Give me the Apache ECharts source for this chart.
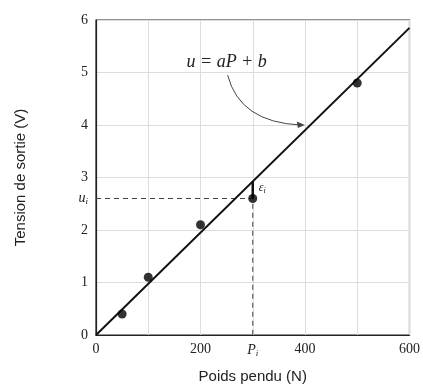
<!DOCTYPE html>
<html>
<head>
<meta charset="utf-8">
<script src="https://cdn.jsdelivr.net/npm/echarts@6/dist/echarts.min.js"></script>
<style>
  html, body { margin: 0; padding: 0; background: #fff; }
  #chart { width: 423px; height: 389px; }
</style>
</head>
<body>
<div id="chart"></div>
<script>
// Measured points (weight in N, output voltage in V)
const weights = [50, 100, 200, 300, 500];
const voltages = [0.4, 1.1, 2.1, 2.6, 4.8];

// Fitted line u = aP + b
const fitX = [0, 600];
const fitY = [0, 5.85];

// Highlighted point i
const Pi = 300;
const ui = 2.6;
const uFit = 2.925;

const serif = '"Liberation Serif", "DejaVu Serif", serif';
const sans = '"Liberation Sans", Arial, sans-serif';

const chart = echarts.init(document.getElementById('chart'));

const option = {
  animation: false,
  grid: {
    left: 96, top: 20, width: 317, height: 317,
    show: true, borderColor: '#222', borderWidth: 1.2,
  },
  xAxis: {
    type: 'value', min: 0, max: 600, interval: 100,
    name: 'Poids pendu (N)', nameLocation: 'middle', nameGap: 34,
    nameTextStyle: { fontFamily: sans, fontSize: 15, color: '#222' },
    axisLine: { lineStyle: { color: '#222', width: 1.2 } },
    axisTick: { show: false },
    splitLine: { lineStyle: { color: '#ddd' } },
    axisLabel: {
      margin: 7,
      fontFamily: serif, fontSize: 14, color: '#222',
      formatter: (v) => {
        if (v === Pi) return '{it|P}{sub|i}';
        if (v === 100 || v === 500) return '';
        return String(v);
      },
      rich: {
        it: { fontFamily: serif, fontStyle: 'italic', fontSize: 14, color: '#222' },
        sub: { fontFamily: serif, fontStyle: 'italic', fontSize: 9, color: '#222', padding: [7, 0, 0, 0] },
      },
    },
  },
  yAxis: {
    type: 'value', min: 0, max: 6, interval: 1,
    name: 'Tension de sortie (V)', nameLocation: 'middle', nameGap: 68,
    nameTextStyle: { fontFamily: sans, fontSize: 15, color: '#222' },
    axisLine: { show: true, lineStyle: { color: '#222', width: 1.2 } },
    axisTick: { show: false },
    splitLine: { lineStyle: { color: '#ddd' } },
    axisLabel: { margin: 8, fontFamily: serif, fontSize: 14, color: '#222' },
  },
  series: [
    {
      // dashed guides to u_i and P_i
      type: 'line',
      data: [[0, ui], [Pi, ui], [Pi, 0]],
      showSymbol: false, symbol: 'none',
      lineStyle: { color: '#444', width: 1, type: [5, 4] },
      z: 3,
    },
    {
      // fitted line
      type: 'line',
      data: fitX.map((x, i) => [x, fitY[i]]),
      symbol: 'none',
      lineStyle: { color: '#111', width: 2 },
      z: 4,
    },
    {
      // epsilon_i residual
      type: 'line',
      data: [[Pi, ui], [Pi, uFit]],
      showSymbol: false, symbol: 'none',
      lineStyle: { color: '#111', width: 2.5 },
      z: 5,
    },
    {
      type: 'scatter',
      data: weights.map((w, i) => [w, voltages[i]]),
      symbol: 'circle', symbolSize: 9,
      itemStyle: { color: '#000' },
      z: 6,
    },
  ],
};

chart.setOption(option);

// annotation "u = aP + b" with curved arrow to the fitted line
const px = (p) => chart.convertToPixel({ gridIndex: 0 }, p);
const labelPt = px([250, 5.2]);
const from = px([252, 4.95]);
const to = px([392, 4.0]);
const ctrl = px([275, 4.05]);
const uiPt = px([0, ui]);
const epsPt = px([Pi, uFit]);

chart.setOption({
  graphic: [
    {
      type: 'text', x: labelPt[0], y: labelPt[1],
      style: {
        text: 'u = aP + b', fontFamily: serif, fontStyle: 'italic', fontSize: 18,
        fill: '#222', align: 'center', verticalAlign: 'middle',
      },
      z: 10,
    },
    {
      type: 'text', x: uiPt[0] - 8, y: uiPt[1],
      style: {
        text: '{it|u}{sub|i}', fontFamily: serif, align: 'right', verticalAlign: 'middle',
        rich: {
          it: { fontFamily: serif, fontStyle: 'italic', fontSize: 14, fill: '#222' },
          sub: { fontFamily: serif, fontStyle: 'italic', fontSize: 9, fill: '#222', padding: [7, 0, 0, 0] },
        },
      },
      z: 10,
    },
    {
      type: 'text', x: epsPt[0] + 6, y: epsPt[1] + 6,
      style: {
        text: '{it|ε}{sub|i}', fontFamily: serif, align: 'left', verticalAlign: 'middle',
        rich: {
          it: { fontFamily: serif, fontStyle: 'italic', fontSize: 12, fill: '#222' },
          sub: { fontFamily: serif, fontStyle: 'italic', fontSize: 8, fill: '#222', padding: [6, 0, 0, 0] },
        },
      },
      z: 10,
    },
    {
      type: 'bezierCurve',
      shape: { x1: from[0], y1: from[1], x2: to[0], y2: to[1], cpx1: ctrl[0], cpy1: ctrl[1] },
      style: { stroke: '#444', lineWidth: 1, fill: null },
      z: 10,
    },
    {
      type: 'polygon',
      shape: { points: [[to[0] + 4, to[1]], [to[0] - 4, to[1] - 3.5], [to[0] - 3, to[1] + 3]] },
      style: { fill: '#444' },
      z: 10,
    },
  ],
});
</script>
</body>
</html>
